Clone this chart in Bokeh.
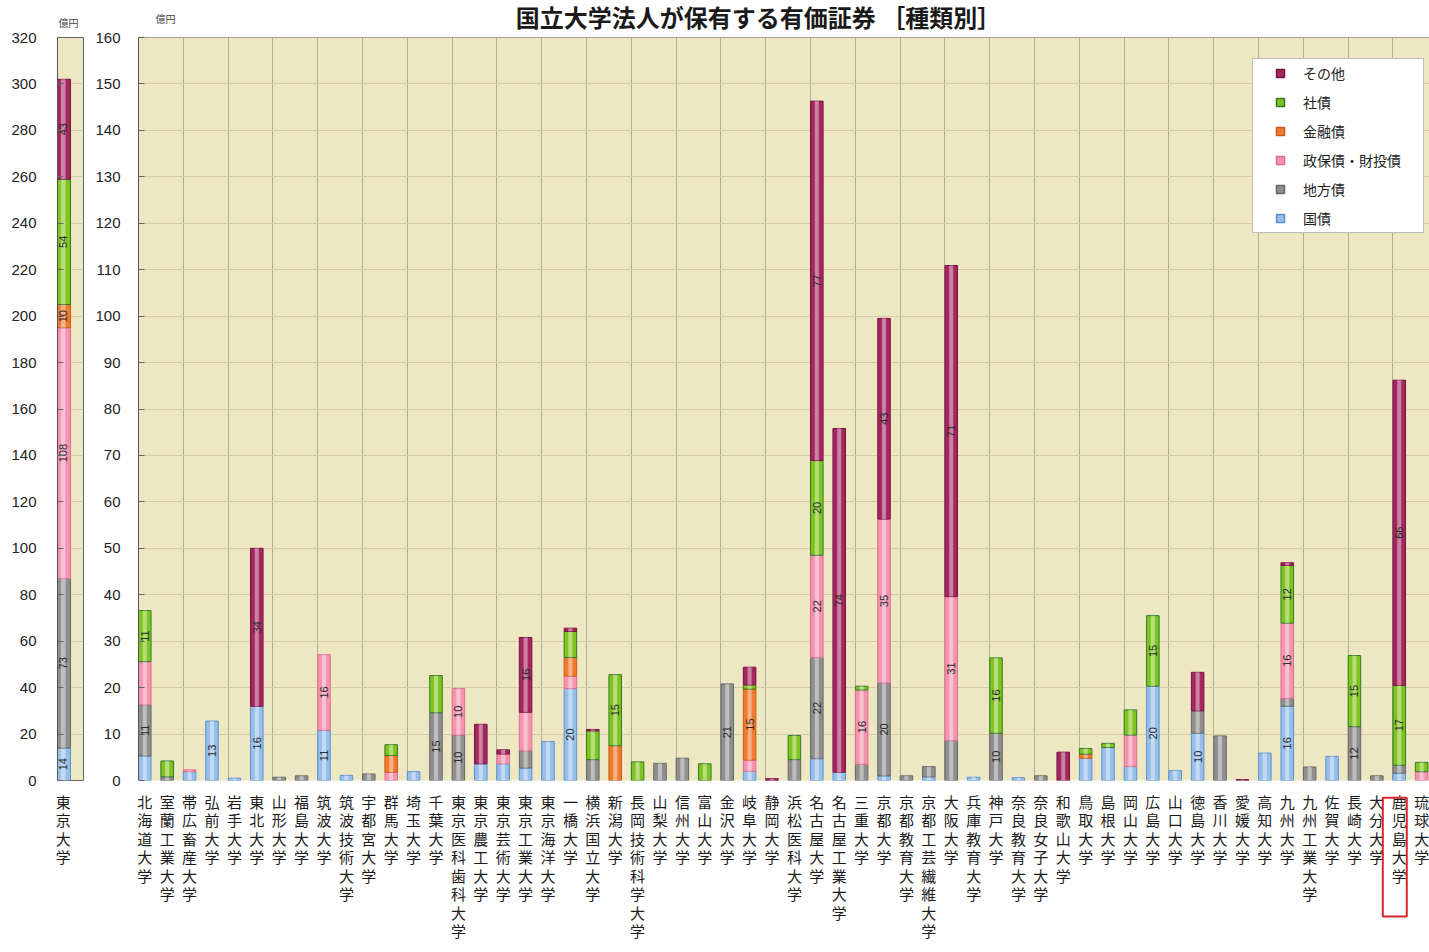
import math
from bokeh.plotting import figure
from bokeh.models import (ColumnDataSource, Range1d, SingleIntervalTicker, FixedTicker,
                          Legend, LegendItem, Span)
from bokeh.layouts import row
from bokeh.core.properties import value
from bokeh.embed import file_html
from bokeh.resources import INLINE

# ---------------- data ----------------
series_names = ["国債", "地方債", "政保債・財投債", "金融債", "社債", "その他"]

tokyo_name = "東京大学"
tokyo_values = [14, 73, 108, 10, 54, 43]   # same order as series_names

universities = [
    "北海道大学", "室蘭工業大学", "帯広畜産大学", "弘前大学", "岩手大学", "東北大学",
    "山形大学", "福島大学", "筑波大学", "筑波技術大学", "宇都宮大学", "群馬大学",
    "埼玉大学", "千葉大学", "東京医科歯科大学", "東京農工大学", "東京芸術大学",
    "東京工業大学", "東京海洋大学", "一橋大学", "横浜国立大学", "新潟大学",
    "長岡技術科学大学", "山梨大学", "信州大学", "富山大学", "金沢大学", "岐阜大学",
    "静岡大学", "浜松医科大学", "名古屋大学", "名古屋工業大学", "三重大学", "京都大学",
    "京都教育大学", "京都工芸繊維大学", "大阪大学", "兵庫教育大学", "神戸大学",
    "奈良教育大学", "奈良女子大学", "和歌山大学", "鳥取大学", "島根大学", "岡山大学",
    "広島大学", "山口大学", "徳島大学", "香川大学", "愛媛大学", "高知大学", "九州大学",
    "九州工業大学", "佐賀大学", "長崎大学", "大分大学", "鹿児島大学", "琉球大学",
]
highlighted = "鹿児島大学"

kokusai = [5.3, 0, 1.9, 12.8, 0.5, 16, 0, 0, 10.8, 1.1, 0, 0,
           1.9, 0, 0, 3.6, 3.6, 2.7, 8.4, 19.8, 0, 0,
           0, 0, 0, 0, 0, 2.0, 0, 0, 4.7, 1.8, 0, 1.0,
           0, 0.8, 0, 0.7, 0, 0.6, 0, 0, 4.8, 7.1, 3.0,
           20.3, 2.1, 10.2, 0, 0, 5.9, 16, 0, 5.2, 0, 0, 1.6, 0]
chihousai = [11, 0.8, 0, 0, 0, 0, 0.7, 1.0, 0, 0, 1.4, 0,
             0, 14.6, 9.8, 0, 0, 3.7, 0, 0, 4.5, 0,
             0, 3.7, 4.8, 0, 20.8, 0, 0, 4.5, 21.8, 0, 3.5, 20,
             1.0, 2.2, 8.6, 0, 10.2, 0, 1.0, 0, 0, 0, 0,
             0, 0, 4.8, 9.6, 0, 0, 1.7, 2.9, 0, 11.6, 1.0, 1.7, 0]
seihosai = [9.3, 0, 0.4, 0, 0, 0, 0, 0, 16.3, 0, 0, 1.8,
            0, 0, 10, 0, 2.1, 8.3, 0, 2.7, 0, 0,
            0, 0, 0, 0, 0, 2.4, 0, 0, 22, 0, 16, 35.3,
            0, 0, 31, 0, 0, 0, 0, 0, 0, 0, 6.8,
            0, 0, 0, 0, 0, 0, 16.2, 0, 0, 0, 0, 0, 1.9]
kinyusai = [0, 0, 0, 0, 0, 0, 0, 0, 0, 0, 0, 3.6,
            0, 0, 0, 0, 0, 0, 0, 4.0, 0, 7.5,
            0, 0, 0, 0, 0, 15.3, 0, 0, 0, 0, 0, 0,
            0, 0, 0, 0, 0, 0, 0, 0, 0.9, 0, 0,
            0, 0, 0, 0, 0, 0, 0, 0, 0, 0, 0, 0, 0]
shasai = [11, 3.4, 0, 0, 0, 0, 0, 0, 0, 0, 0, 2.3,
          0, 8.0, 0, 0, 0, 0, 0, 5.6, 6.2, 15.3,
          4.0, 0, 0, 3.6, 0, 0.9, 0, 5.2, 20.4, 0, 0.8, 0,
          0, 0, 0, 0, 16.2, 0, 0, 0, 1.2, 0.9, 5.4,
          15.2, 0, 0, 0, 0, 0, 12.4, 0, 0, 15.3, 0, 17.2, 2.0]
sonota = [0, 0, 0, 0, 0, 34, 0, 0, 0, 0, 0, 0,
          0, 0, 0, 8.5, 0.9, 16.1, 0, 0.7, 0.3, 0,
          0, 0, 0, 0, 0, 3.8, 0.4, 0, 77.4, 74, 0, 43.2,
          0, 0, 71.3, 0, 0, 0, 0, 6.1, 0, 0, 0,
          0, 0, 8.3, 0, 0.2, 0, 0.6, 0, 0, 0, 0, 65.7, 0]

main_series = [kokusai, chihousai, seihosai, kinyusai, shasai, sonota]

title_text = "国立大学法人が保有する有価証券 ［種類別］"
unit_text = "億円"

# ---------------- style ----------------
JP = "Noto Sans CJK JP"
NUM = "Liberation Sans"
BG = "#EEE8C2"
fills = ["#97BFEA", "#8F8F8F", "#F394B0", "#EE7B30", "#80C420", "#A3285F"]
lines = ["#5E90D0", "#666666", "#E06C90", "#CC5A12", "#2F7A2A", "#7A1242"]
BAR_W = 0.56
CAT_FONT = "15px"
CAT_LH = 0.88


def segments(xs, series_list):
    """Build per-series segment sources (bottom/top) from stacked data."""
    base = [0.0] * len(xs)
    out = []
    lx, ly, lt = [], [], []
    for vals in series_list:
        sx, sb, st = [], [], []
        for i, v in enumerate(vals):
            if v > 0:
                sx.append(xs[i]); sb.append(base[i]); st.append(base[i] + v)
                if v >= 9.7:
                    lx.append(xs[i]); ly.append(base[i] + v / 2); lt.append(str(int(round(v))))
            base[i] += v
        out.append(ColumnDataSource(dict(x=sx, bottom=sb, top=st)))
    return out, ColumnDataSource(dict(x=lx, y=ly, text=lt))


def draw_bars(fig, xs, series_list):
    srcs, lab = segments(xs, series_list)
    for k, s in enumerate(srcs):
        fig.vbar(x="x", bottom="bottom", top="top", width=BAR_W, source=s,
                 fill_color=fills[k], line_color=lines[k], line_width=1)
        fig.vbar(x="x", bottom="bottom", top="top", width=BAR_W * 0.32, source=s,
                 fill_color="white", fill_alpha=0.42, line_alpha=0)
    fig.text(x="x", y="y", text="text", source=lab, angle=math.pi / 2,
             text_align="center", text_baseline="middle", text_font=value(NUM),
             text_font_size="11px", text_color="#2b2b2b")


def style_yaxis(fig, interval, standoff):
    ax = fig.yaxis[0]
    ax.ticker = SingleIntervalTicker(interval=interval)
    ax.major_tick_in = 6
    ax.major_tick_out = 0
    ax.minor_tick_line_color = None
    ax.major_tick_line_color = "#666666"
    ax.axis_line_color = "#555555"
    ax.major_label_standoff = standoff
    ax.major_label_text_font = NUM
    ax.major_label_text_font_size = "15px"
    ax.major_label_text_color = "#222222"


def overlay_text(fig, x, y, text, size, style="normal", color="#444444", baseline="middle",
                 line_height=1.0):
    fig.text(x=x, y=y, text=text, level="overlay", text_align="center",
             text_baseline=baseline, text_font=value(JP), text_font_size=size,
             text_font_style=style, text_color=color, text_line_height=line_height)


# ---------------- Tokyo panel ----------------
t = figure(width=92, height=952, x_range=Range1d(0, 1), y_range=Range1d(0, 320),
           output_backend="svg", toolbar_location=None,
           min_border_left=57, min_border_right=9, min_border_top=33, min_border_bottom=172,
           background_fill_color=BG, border_fill_color="white",
           outline_line_color="#666666")
t.xaxis.visible = False
t.xgrid.grid_line_color = None
t.ygrid.ticker = SingleIntervalTicker(interval=20)
t.ygrid.grid_line_color = "#D3CCA6"
style_yaxis(t, 20, 17)
draw_bars(t, [0.22], [[v] for v in tokyo_values])
overlay_text(t, [0.22], [-4.4], ["\n".join(tokyo_name)], CAT_FONT, color="#1c1c1c",
             baseline="top", line_height=CAT_LH)
overlay_text(t, [0.42], [326.4], [unit_text], "10px")

# ---------------- main panel ----------------
n = len(universities)
xs = list(range(n))
p = figure(width=1337, height=952, x_range=Range1d(-0.28, 57.35), y_range=Range1d(0, 160),
           output_backend="svg", toolbar_location=None,
           min_border_left=46, min_border_right=0, min_border_top=37, min_border_bottom=172,
           background_fill_color=BG, border_fill_color="white", outline_line_color=None)
p.xaxis.visible = False
p.xgrid.ticker = FixedTicker(ticks=[i - BAR_W / 2 for i in range(2, n, 2)])
p.xgrid.grid_line_color = "#9F9D88"
p.xgrid.grid_line_alpha = 0.8
p.ygrid.ticker = SingleIntervalTicker(interval=10)
p.ygrid.grid_line_color = "#D3CCA6"
style_yaxis(p, 10, 14)
p.add_layout(Span(location=160, dimension="width", line_color="#555555", line_width=1))

draw_bars(p, xs, main_series)

overlay_text(p, xs, [-2.2] * n, ["\n".join(u) for u in universities], CAT_FONT,
             color="#1c1c1c", baseline="top", line_height=CAT_LH)
overlay_text(p, [0.93], [164.1], [unit_text], "10px")
overlay_text(p, [27.4], [164.6], [title_text], "24px", style="bold", color="#1a1a1a")

# red frame around the highlighted university's label
hi = universities.index(highlighted)
p.rect(x=[hi - 0.2], y=[-16.5], width=1.07, height=25.6, level="overlay",
       fill_color=None, line_color="#D8262B", line_width=2)

# legend (top to bottom: その他 ... 国債); key glyphs are non-drawn points (NaN)
items = []
for k in reversed(range(len(series_names))):
    r = p.scatter(x=[float("nan")], y=[float("nan")], marker="square",
                  fill_color=fills[k], line_color=lines[k], line_width=1.5)
    items.append(LegendItem(label=series_names[k], renderers=[r]))
legend = Legend(items=items, location=(1114, 547), padding=4, spacing=9,
                glyph_width=46, glyph_height=20, label_height=20, label_width=116,
                label_standoff=0, label_text_font=JP, label_text_font_size="14px",
                label_text_color="#222222", background_fill_color="white",
                background_fill_alpha=1.0, border_line_color="#777777", margin=0)
p.add_layout(legend)

layout = row(t, p)
open("out.html", "w").write(file_html(layout, INLINE))
